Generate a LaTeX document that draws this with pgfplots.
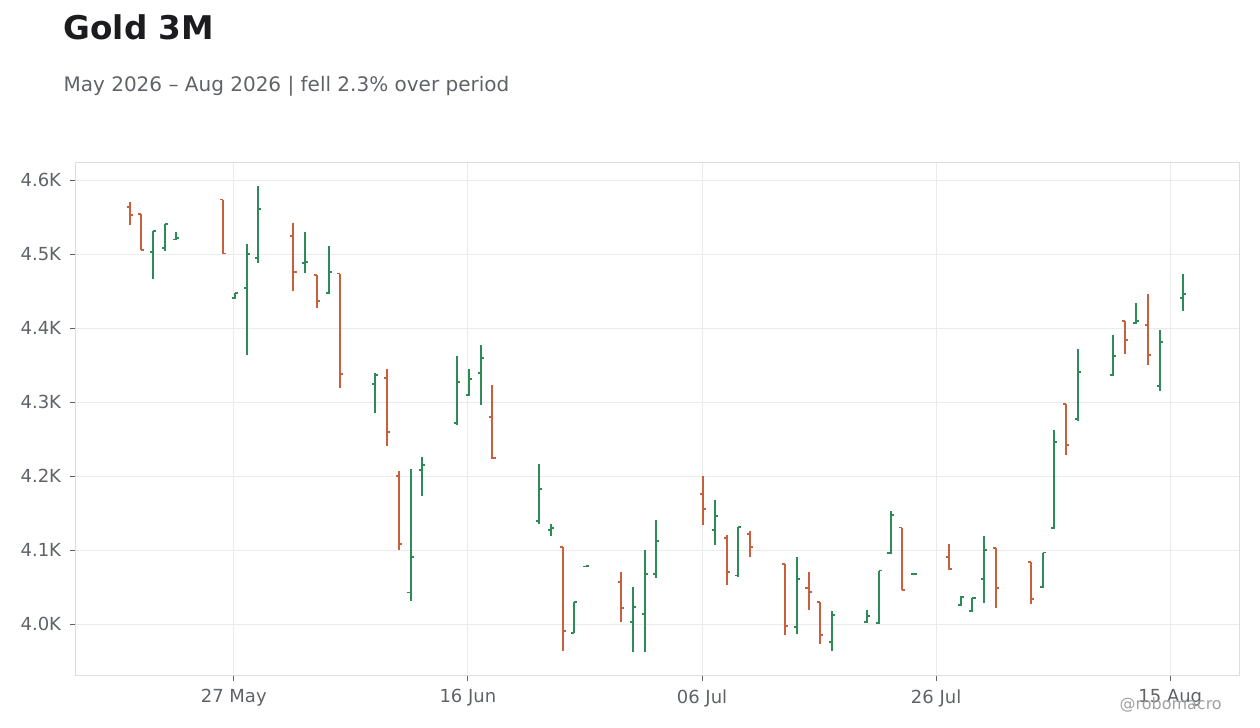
\documentclass[border=0pt]{standalone}
\usepackage{pgfplots}
\usepackage{pgfplotstable}
\usepackage{fontspec}
\setmainfont{DejaVu Sans}
\pgfplotsset{compat=1.18}

\definecolor{upc}{HTML}{2E8B57}
\definecolor{dnc}{HTML}{C8603E}
\definecolor{gridc}{HTML}{EBEBEB}
\definecolor{framec}{HTML}{DDDDDD}
\definecolor{tickc}{HTML}{5F6368}
\definecolor{titlec}{HTML}{1C1C1E}
\definecolor{markc}{HTML}{A0A0A0}

% open tick to the left, close tick to the right
\pgfdeclareplotmark{oleft}{%
  \pgfpathmoveto{\pgfqpoint{-\pgfplotmarksize}{0pt}}%
  \pgfpathlineto{\pgfqpoint{0pt}{0pt}}%
  \pgfusepathqstroke}
\pgfdeclareplotmark{cright}{%
  \pgfpathmoveto{\pgfqpoint{0pt}{0pt}}%
  \pgfpathlineto{\pgfqpoint{\pgfplotmarksize}{0pt}}%
  \pgfusepathqstroke}

% day 0 = 27 May 2026
\pgfplotstableread{
d   O       H       L       C
-7  4503    4531.5  4466    4531.5
-6  4508.5  4541.5  4504.5  4541.5
-5  4520    4530.6  4519.5  4522
0   4441    4448    4440    4448
1   4454.5  4513.5  4363.5  4500
2   4495    4592    4488    4561
6   4488    4530    4475    4490
8   4447.7  4511    4447    4476
12  4324.7  4340    4285.5  4337
15  4043    4209.5  4032    4091
16  4208    4226    4173    4215
19  4272    4362    4269    4328
20  4309.5  4345.5  4308    4331
21  4339.6  4377    4296    4360
26  4139    4216    4135.5  4182.4
27  4127.4  4135    4119    4130
29  3988    4030    3987.6  4030
30  4078    4079    4078    4079
34  4002.7  4050    3962.6  4023.4
35  4014    4100    3962.6  4068
36  4068    4140.5  4062.6  4112.6
41  4127.4  4167.6  4107    4146
43  4066    4131.5  4063.6  4131.5
48  3996.4  4090.5  3987    4061.2
51  3976    4017.6  3964    4012.6
54  4002.7  4019    4002    4011
55  4001.4  4072.6  4001    4072.6
56  4096    4152.7  4095.5  4147.7
58  4068    4068.5  4067.5  4068
62  4025.7  4038    4025    4037
63  4017.6  4036    4017    4035.6
64  4060.8  4119    4028.8  4100
69  4050    4097    4049    4097
70  4130    4262    4128.8  4246
72  4277.4  4371.6  4274.7  4341
75  4336.5  4390.5  4336    4362
77  4407    4433.8  4406.3  4409.5
79  4321.6  4397.3  4315.3  4381.5
81  4441    4473    4423.4  4446.4
}\up

\pgfplotstableread{
d   O       H       L       C
-9  4564    4570    4539    4553
-8  4554    4554    4506    4506
-1  4574    4574    4501    4501
5   4525    4542    4450    4476
7   4472.5  4472.5  4427.5  4436.5
9   4474    4474    4319    4338
13  4333    4345    4241    4260
14  4200    4207    4100.4  4108.5
22  4280    4323    4224    4225
28  4104.5  4105    3964    3990.5
33  4057    4070    4003    4022
40  4176    4200    4134    4156
42  4116.6  4120    4053    4070.7
44  4122    4125.7  4091    4104.5
47  4081.5  4082    3986    3997.7
49  4049    4070    4019    4043.6
50  4030    4030    3973.4  3985.5
57  4130.7  4130.7  4046    4046
61  4091    4108    4074    4074.3
65  4103.6  4103.6  4022    4049
68  4084    4084    4028    4033.8
71  4297.7  4297.7  4228.8  4242.3
76  4410    4410    4365.3  4383.8
78  4404    4446    4350.4  4363.5
}\down

\begin{document}
\begin{tikzpicture}
\path[use as bounding box] (0,0) rectangle (945pt,546pt);
\node[anchor=base west, font=\fontsize{24.5}{28}\selectfont\bfseries, text=titlec, inner sep=0pt]
  at (47.5pt,516pt) {Gold 3M};
\node[anchor=base west, font=\fontsize{15}{18}\selectfont, text=tickc, inner sep=0pt]
  at (47.5pt,477pt) {May 2026 – Aug 2026 | fell 2.3\% over period};
\begin{axis}[
    at={(56.8pt,39.5pt)}, anchor=south west,
    scale only axis, width=872.7pt, height=384.75pt,
    xmin=-13.5, xmax=85.9, ymin=3931, ymax=4624.3,
    axis line style={framec, line width=0.75pt},
    grid=major, major grid style={gridc, line width=0.75pt},
    tick align=outside, xtick pos=bottom, ytick pos=left,
    major tick length=4pt, tick style={tickc, line width=0.75pt},
    xtick={0,20,40,60,80},
    xticklabels={27 May,16 Jun,06 Jul,26 Jul,15 Aug},
    ytick={4000,4100,4200,4300,4400,4500,4600},
    yticklabels={4.0K,4.1K,4.2K,4.3K,4.4K,4.5K,4.6K},
    tick label style={font=\fontsize{13.5}{16}\selectfont, text=tickc},
    yticklabel style={xshift=-3.5pt},
    xticklabel style={yshift=-3pt},
    mark size=2.3pt,
  ]
% green bars
\addplot[draw=none, mark=none, forget plot,
  error bars/.cd, y dir=plus, y explicit, error mark=none,
  error bar style={draw=upc, line width=1.5pt, line cap=butt}]
  table[x expr=\thisrow{d}+0.1, y=L, y error expr=\thisrow{H}-\thisrow{L}] {\up};
\addplot[only marks, mark=oleft, upc, mark options={line width=1.4pt, line cap=butt}]
  table[x expr=\thisrow{d}+0.1, y=O] {\up};
\addplot[only marks, mark=cright, upc, mark options={line width=1.4pt, line cap=butt}]
  table[x expr=\thisrow{d}+0.1, y=C] {\up};
% red bars
\addplot[draw=none, mark=none, forget plot,
  error bars/.cd, y dir=plus, y explicit, error mark=none,
  error bar style={draw=dnc, line width=1.5pt, line cap=butt}]
  table[x expr=\thisrow{d}+0.1, y=L, y error expr=\thisrow{H}-\thisrow{L}] {\down};
\addplot[only marks, mark=oleft, dnc, mark options={line width=1.4pt, line cap=butt}]
  table[x expr=\thisrow{d}+0.1, y=O] {\down};
\addplot[only marks, mark=cright, dnc, mark options={line width=1.4pt, line cap=butt}]
  table[x expr=\thisrow{d}+0.1, y=C] {\down};
\end{axis}
\node[anchor=base east, font=\fontsize{12}{14}\selectfont, text=markc, inner sep=0pt]
  at (916.5pt,13.5pt) {@robomacro};
\end{tikzpicture}
\end{document}
